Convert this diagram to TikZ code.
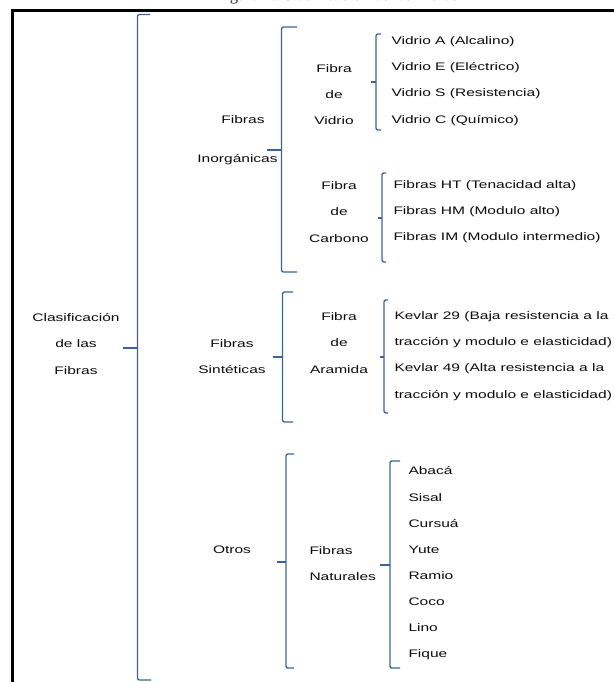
\documentclass[tikz,border=0pt]{standalone}
\usepackage{fontspec}
\setmainfont{Liberation Sans}[FakeStretch=1.42]
\newfontfamily\titlefont{Liberation Serif}

\tikzset{every picture/.style={line width=0.75pt}}
\tikzset{
	brace line/.style={color={rgb, 255:red, 62; green, 98; blue, 152 }, draw opacity=1, line width=1pt, rounded corners=1.5},
	lbl/.style={inner sep=0pt, text={rgb, 255:red, 12; green, 12; blue, 12 }, font=\fontsize{8.2}{19.6}\selectfont},
	frame line/.style={line width=1.8pt}}

\begin{document}
\begin{tikzpicture}[x=0.75pt,y=0.75pt,yscale=-1,xscale=1]
	\useasboundingbox (0,0) rectangle (614,682);
	\clip (0,0) rectangle (614,682);

	% Text Node (title, cut by the page)
	\draw (337,0.8) node (titulo) [anchor=base, inner sep=0pt, text={rgb, 255:red, 40; green, 40; blue, 40 }, font=\titlefont\fontsize{12.5}{14}\selectfont] {Figura 4. Clasificación de las Fibras};

	%Shape: Frame
	\draw [frame line] (614,10.5) -- (12.5,10.5) -- (12.5,682) ;

	%Shape: Brace [level 1]
	\draw [brace line] (150,14.5) -- (137.5,14.5) -- (137.5,680) -- (151,680) ;
	\draw [brace line] (137.5,348) -- (123,348) ;
	%Shape: Brace [Inorganicas]
	\draw [brace line] (297,27) -- (281.5,27) -- (281.5,272) -- (297,272) ;
	\draw [brace line] (281.5,150) -- (267,150) ;
	%Shape: Brace [Sinteticas]
	\draw [brace line] (293,292) -- (282.5,292) -- (282.5,422) -- (293,422) ;
	\draw [brace line] (282.5,357) -- (273,357) ;
	%Shape: Brace [Otros]
	\draw [brace line] (294,454) -- (286,454) -- (286,668) -- (294,668) ;
	\draw [brace line] (286,562) -- (277,562) ;
	%Shape: Brace [Vidrio]
	\draw [brace line] (381,34) -- (376,34) -- (376,130) -- (381,130) ;
	\draw [brace line] (376,82) -- (371,82) ;
	%Shape: Brace [Carbono]
	\draw [brace line] (386,173) -- (382,173) -- (382,262) -- (386,262) ;
	\draw [brace line] (382,218) -- (378,218) ;
	%Shape: Brace [Aramida]
	\draw [brace line] (388,300) -- (384,300) -- (384,413) -- (388,413) ;
	\draw [brace line] (384,357) -- (380,357) ;
	%Shape: Brace [Naturales]
	\draw [brace line] (400,461) -- (390,461) -- (390,668) -- (400,668) ;
	\draw [brace line] (390,565) -- (380,565) ;

	% Text Node
	\draw (76,344) node (clasif) [lbl, align=center] {Clasificación\\de las\\Fibras};
	% Text Node
	\draw (243,120) node (fibinorg) [lbl] {Fibras};
	% Text Node
	\draw (237.5,160) node (inorg) [lbl] {Inorgánicas};
	% Text Node
	\draw (232,356.5) node (sintet) [lbl, align=center] {Fibras\\Sintéticas};
	% Text Node
	\draw (232,550) node (otros) [lbl] {Otros};
	% Text Node
	\draw (334,94.5) node (vidrio) [lbl, align=center] {Fibra\\de\\Vidrio};
	% Text Node
	\draw (339,212) node (carbono) [lbl, align=center] {Fibra\\de\\Carbono};
	% Text Node
	\draw (339,343) node (aramida) [lbl, align=center] {Fibra\\de\\Aramida};
	% Text Node
	\draw (309,563.5) node (natur) [lbl, anchor=west, align=left] {Fibras\\Naturales};
	% Text Node
	\draw (391,81) node (vidrios) [lbl, anchor=west, align=left] {Vidrio A (Alcalino)\\Vidrio E (Eléctrico)\\Vidrio S (Resistencia)\\Vidrio C (Químico)};
	% Text Node
	\draw (393,211.5) node (carbonos) [lbl, anchor=west, align=left] {Fibras HT (Tenacidad alta)\\Fibras HM (Modulo alto)\\Fibras IM (Modulo intermedio)};
	% Text Node
	\draw (394,356) node (kevlar) [lbl, anchor=west, align=left] {Kevlar 29 (Baja resistencia a la\\tracción y modulo e elasticidad)\\Kevlar 49 (Alta resistencia a la\\tracción y modulo e elasticidad)};
	% Text Node
	\draw (408,563.5) node (naturales) [lbl, anchor=west, align=left] {Abacá\\Sisal\\Cursuá\\Yute\\Ramio\\Coco\\Lino\\Fique};

\end{tikzpicture}
\end{document}
